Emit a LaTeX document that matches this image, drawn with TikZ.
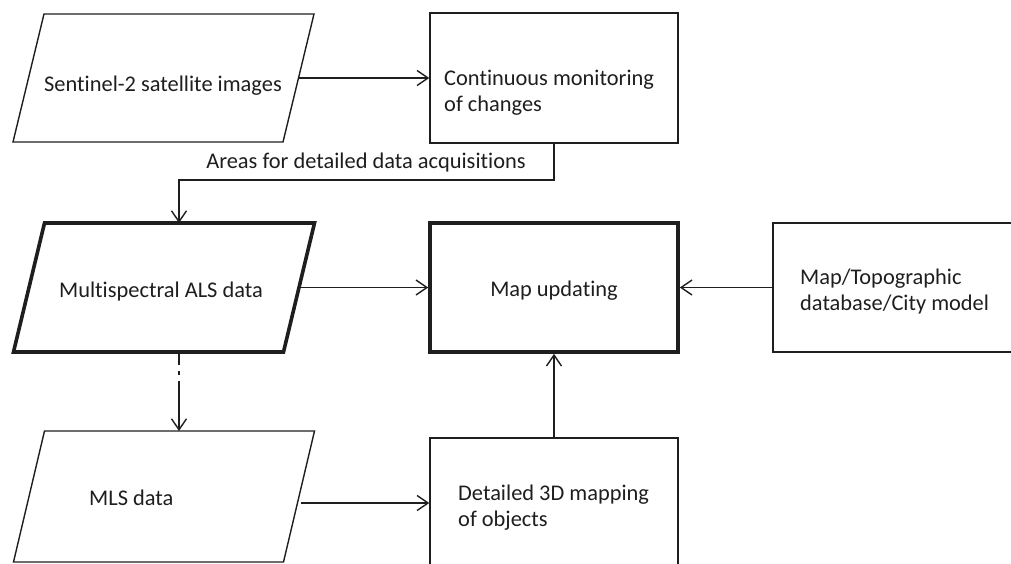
\documentclass[tikz,border=0pt]{standalone}
\usepackage{fontspec}
\setmainfont{Carlito}[Ligatures=NoCommon]
\usetikzlibrary{arrows.meta,calc}
\definecolor{ink}{HTML}{1E1E1E}
\begin{document}
\begin{tikzpicture}[x=1pt,y=-1pt,
  thinline/.style={draw=ink,line width=1.4pt},
  thickline/.style={draw=ink,line width=3.6pt},
  paraframe/.style={shape=rectangle,minimum width=301pt,minimum height=128pt,inner sep=0pt,outer sep=0pt},
  boxr/.style={shape=rectangle,minimum width=248pt,minimum height=130pt,inner sep=0pt},
  txt/.style={text=ink,font=\fontsize{22.4}{26.5}\selectfont,inner sep=0pt},
  arr/.style={draw=ink,line width=1.4pt,-{Straight Barb[length=11pt,width=15pt,line width=1.4pt]}}
]
\useasboundingbox (0,0) rectangle (1011,563);
% parallelogram frames (named, drawn by their corners)
\node[paraframe] (sent) at (163.5,78) {};
\node[paraframe,minimum height=129pt] (multi) at (164,287.5) {};
\node[paraframe,minimum height=131pt] (mls) at (164,496.5) {};
\foreach \p/\st in {sent/thinline,multi/thickline,mls/thinline}{
  \draw[\st,line join=miter] ($(\p.north west)+(31,0)$) -- (\p.north east) -- ($(\p.south east)+(-31,0)$) -- (\p.south west) -- cycle;
}
% rectangles
\node[boxr,thinline] (cont) at (554,78) {};
\node[boxr,thickline,minimum height=129pt] (map) at (554,287.5) {};
\node[boxr,thinline,minimum height=129pt] (right) at (897,287.5) {};
\node[boxr,thinline] (det) at (554,503) {};
% texts
\node[txt,anchor=base] (tsent) at (163,91) {Sentinel-2 satellite images};
\node[txt,anchor=base west,align=left] (tcont) at (444,111.5) {Continuous monitoring\\of changes};
\node[txt,anchor=base] (tmulti) at (161,297) {Multispectral ALS data};
\node[txt,anchor=base] (tmap) at (554,296) {Map updating};
\node[txt,anchor=base west,align=left] (tright) at (800,310.5) {Map/Topographic\\database/City model};
\node[txt,anchor=base west] (tmls) at (89,505) {MLS data};
\node[txt,anchor=base west,align=left] (tdet) at (458,526.5) {Detailed 3D mapping\\of objects};
\node[txt,anchor=base] (areas) at (366,168) {Areas for detailed data acquisitions};
% helper coordinates
\coordinate (colx) at (179,0);
\coordinate (bend) at (179,180);
% connectors
\draw[arr] ($(sent.east)+(-15.5,0)$) -- (cont.west);
\draw[arr] (cont.south) |- (bend) -- (multi.north -| bend);
\draw[arr] ($(multi.east)+(-15.5,0)$) -- (map.west);
\draw[arr] (right.west) -- (map.east);
\draw[arr] (det.north) -- (map.south);
\draw[arr] ($(det.west -| mls.east)+(-14,0)$) -- (det.west);
\draw[arr,dash pattern=on 13pt off 6pt on 4pt off 6pt on 200pt] (multi.south -| colx) -- (mls.north -| colx);
\end{tikzpicture}
\end{document}
